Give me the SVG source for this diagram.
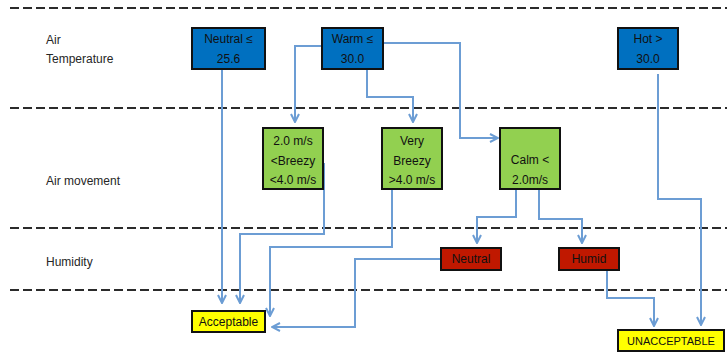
<svg xmlns="http://www.w3.org/2000/svg" width="727" height="354" viewBox="0 0 727 354">
<style>
.bg{fill:#ffffff}
.dash{stroke:#2b2b2b;stroke-width:2;stroke-dasharray:9 4;fill:none}
.lbl{font-family:"Liberation Sans",Arial,sans-serif;font-size:12px;fill:#262626}
.t{font-family:"Liberation Sans",Arial,sans-serif;font-size:12px;fill:#111111;text-anchor:middle}
.blue{fill:#0070C0;stroke:#111;stroke-width:2}
.green{fill:#92D050;stroke:#111;stroke-width:2}
.red{fill:#C01800;stroke:#111;stroke-width:2}
.yellow{fill:#FFFF00;stroke:#111;stroke-width:2}
.c{fill:none;stroke:#6C9DD4;stroke-width:2}
</style>
<defs>
<marker id="ah" viewBox="0 0 10 10" refX="9" refY="5" markerWidth="10" markerHeight="10" markerUnits="userSpaceOnUse" orient="auto">
<path d="M1,1 L9,5 L1,9" fill="none" stroke="#6C9DD4" stroke-width="2"/>
</marker>
</defs>
<rect class="bg" x="0" y="0" width="727" height="354"/>
<g id="lanes">
<line class="dash" x1="10" y1="8" x2="727" y2="8"/>
<line class="dash" x1="10" y1="108" x2="727" y2="108"/>
<line class="dash" x1="10" y1="228" x2="727" y2="228"/>
<line class="dash" x1="10" y1="290" x2="727" y2="290"/>
<text class="lbl" x="46" y="44">Air</text>
<text class="lbl" x="46" y="63">Temperature</text>
<text class="lbl" x="46" y="185">Air movement</text>
<text class="lbl" x="46" y="266">Humidity</text>
</g>
<g id="connectors">
<path class="c" d="M222,69 V303" marker-end="url(#ah)"/>
<path class="c" d="M322,46 H295 V122" marker-end="url(#ah)"/>
<path class="c" d="M367,69 V97 H413 V122" marker-end="url(#ah)"/>
<path class="c" d="M383,43 H460 V138 H498" marker-end="url(#ah)"/>
<path class="c" d="M324,163 V234 H240 V303" marker-end="url(#ah)"/>
<path class="c" d="M392,189 V247 H270 V316" marker-end="url(#ah)"/>
<path class="c" d="M441,259 H355 V327 H272" marker-end="url(#ah)"/>
<path class="c" d="M516,189 V217 H477 V243" marker-end="url(#ah)"/>
<path class="c" d="M539,189 V219 H582 V243" marker-end="url(#ah)"/>
<path class="c" d="M607,270 V298 H654 V326" marker-end="url(#ah)"/>
<path class="c" d="M658,74 V199 H701 V325" marker-end="url(#ah)"/>
</g>
<g id="neutral-temp">
<rect class="blue" x="192" y="28" width="73" height="41"/>
<text class="t" x="228.5" y="43">Neutral ≤</text>
<text class="t" x="228.5" y="63">25.6</text>
</g>
<g id="warm">
<rect class="blue" x="322" y="28" width="61" height="41"/>
<text class="t" x="352.5" y="43">Warm ≤</text>
<text class="t" x="352.5" y="63">30.0</text>
</g>
<g id="hot">
<rect class="blue" x="618" y="28" width="60" height="41"/>
<text class="t" x="648" y="43">Hot &gt;</text>
<text class="t" x="648" y="63">30.0</text>
</g>
<g id="breezy">
<rect class="green" x="263" y="128" width="60" height="61"/>
<text class="t" x="293" y="145">2.0 m/s</text>
<text class="t" x="293" y="165">&lt;Breezy</text>
<text class="t" x="293" y="184">&lt;4.0 m/s</text>
</g>
<g id="very-breezy">
<rect class="green" x="382" y="128" width="60" height="61"/>
<text class="t" x="412" y="145">Very</text>
<text class="t" x="412" y="165">Breezy</text>
<text class="t" x="412" y="184">&gt;4.0 m/s</text>
</g>
<g id="calm">
<rect class="green" x="500" y="128" width="60" height="61"/>
<text class="t" x="530" y="164">Calm &lt;</text>
<text class="t" x="530" y="184">2.0m/s</text>
</g>
<g id="neutral-hum">
<rect class="red" x="441" y="248" width="60" height="22"/>
<text class="t" x="471" y="263">Neutral</text>
</g>
<g id="humid">
<rect class="red" x="559" y="248" width="60" height="22"/>
<text class="t" x="589" y="263">Humid</text>
</g>
<g id="acceptable">
<rect class="yellow" x="192" y="311" width="73" height="21"/>
<text class="t" x="228.5" y="326">Acceptable</text>
</g>
<g id="unacceptable">
<rect class="yellow" x="618" y="330" width="106" height="21"/>
<text class="t" x="671" y="345" style="font-size:11px">UNACCEPTABLE</text>
</g>
</svg>
